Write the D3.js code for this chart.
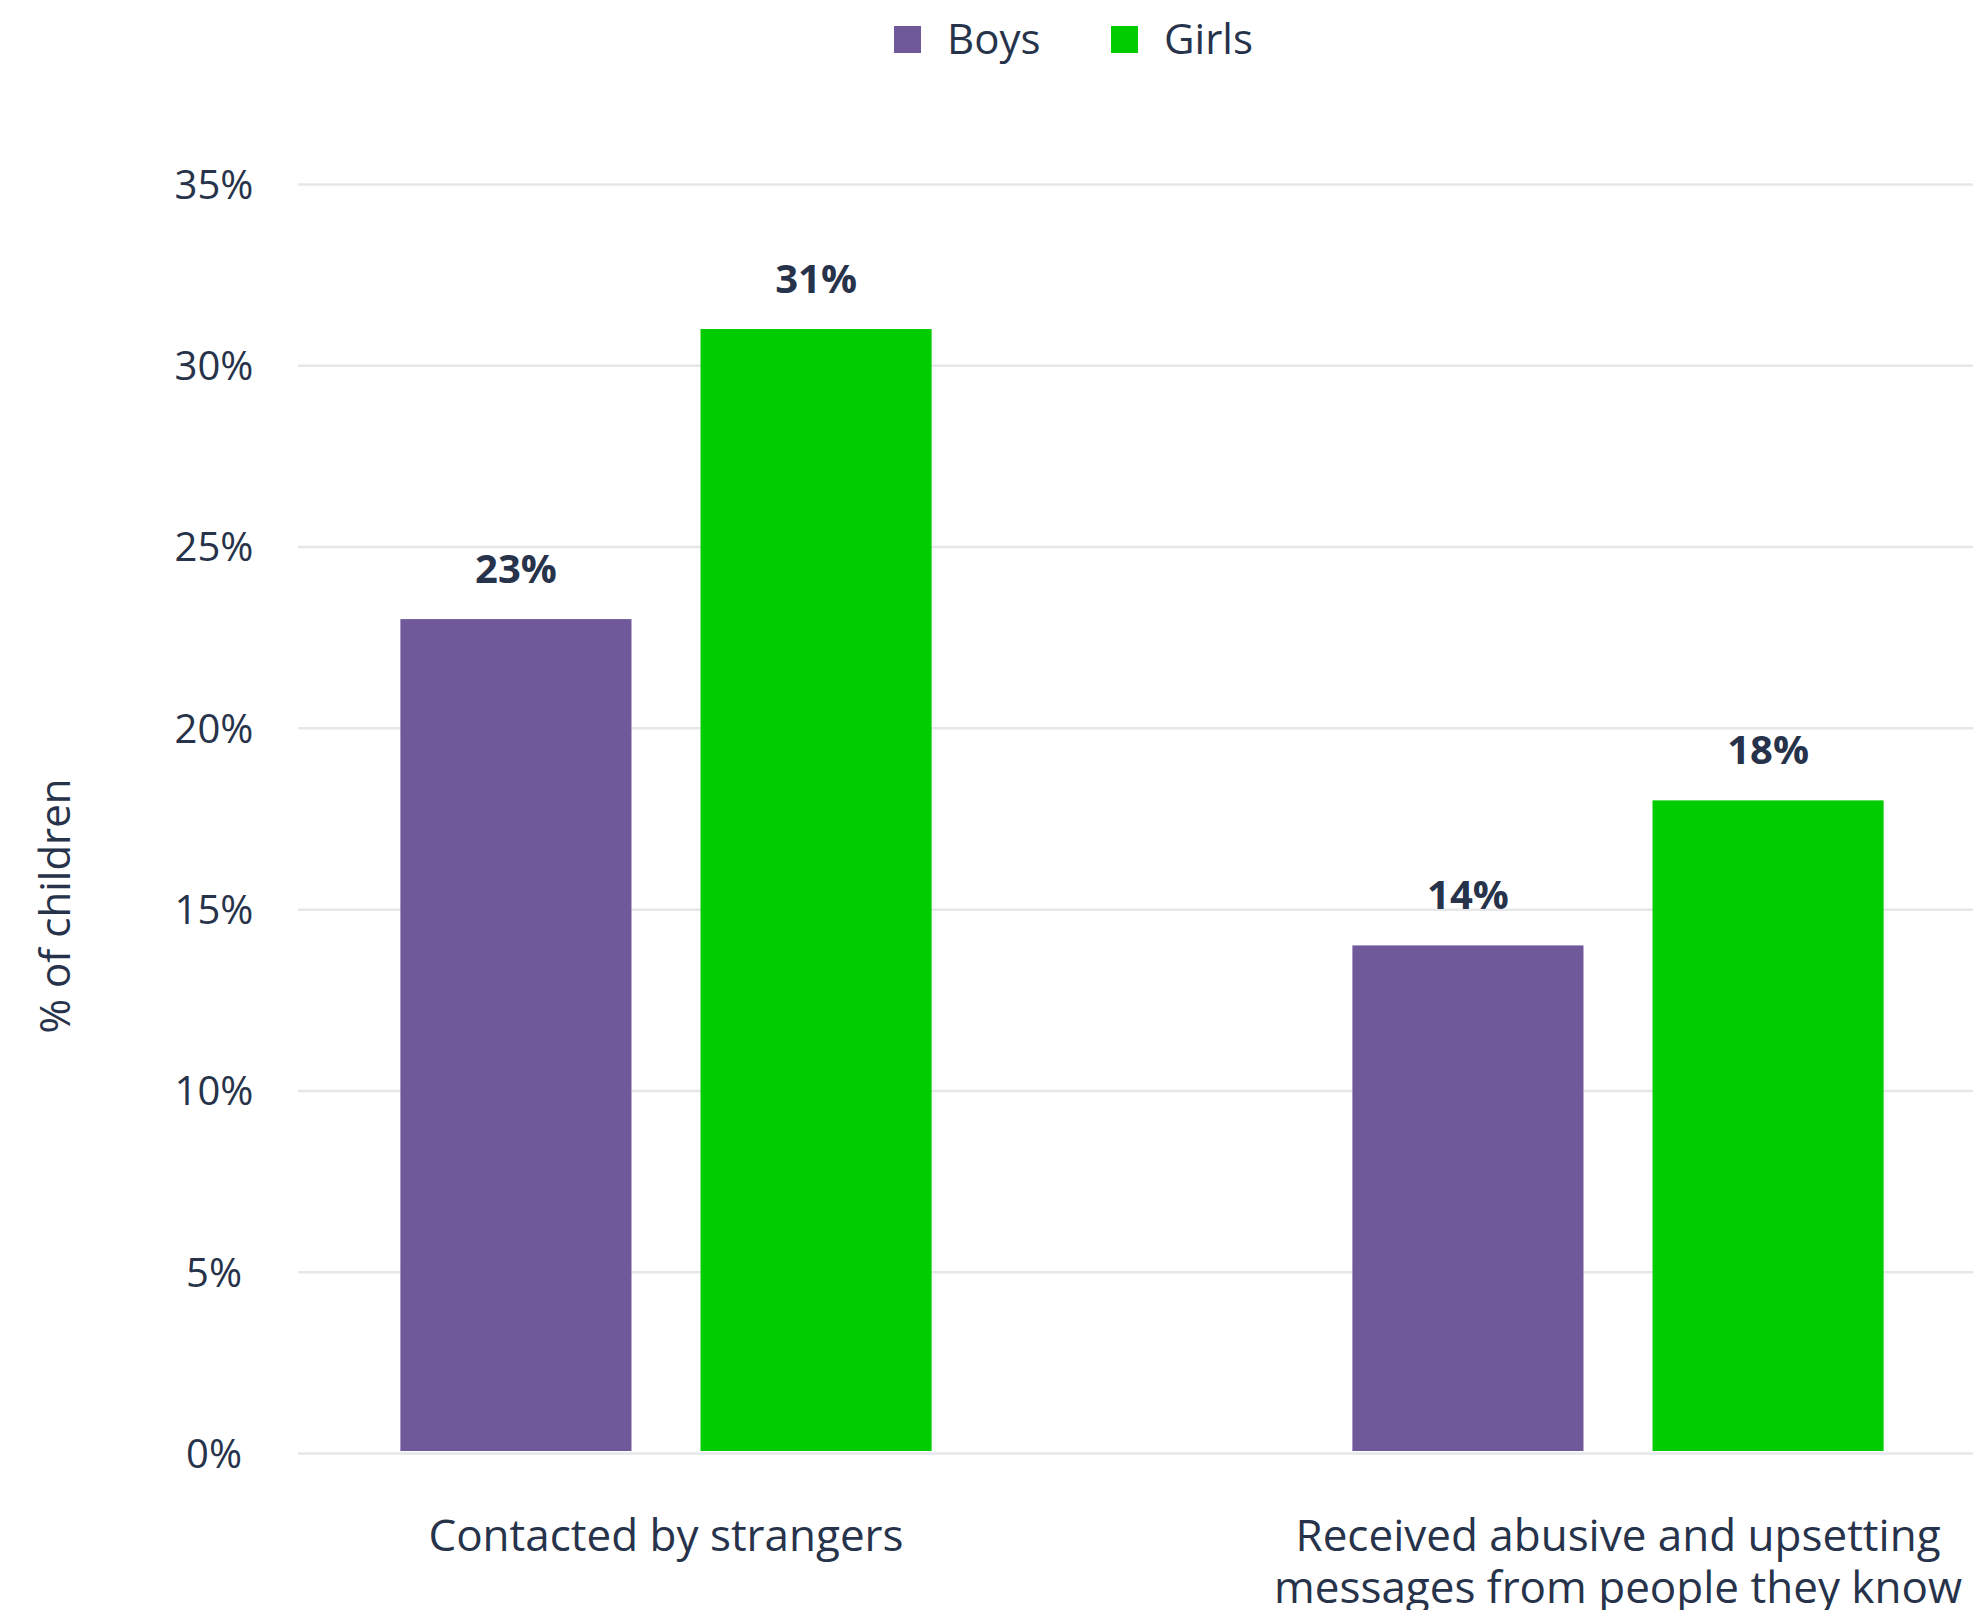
<!DOCTYPE html>
<html>
<head>
<meta charset="utf-8">
<script src="https://cdn.jsdelivr.net/npm/d3@7"></script>
<style>
  html, body { margin: 0; padding: 0; background: #fff; }
  svg { display: block; font-family: "Open Sans", sans-serif; }
</style>
</head>
<body>
<div id="chart"></div>
<script>
const { d3 } = window;

// data
const CATEGORIES = ['Contacted by strangers', 'Received abusive and upsetting messages from people they know'];
const CATEGORY_LINES = [['Contacted by strangers'], ['Received abusive and upsetting', 'messages from people they know']];
const SERIES = ['Boys', 'Girls'];
const BOYS = [23, 14];
const GIRLS = [31, 18];
const Y_TICKS = [0, 5, 10, 15, 20, 25, 30, 35];
const COLORS = ['#70599b', '#00cc00'];

const W = 1973;
const H = 1610;
const TEXT = '#27334a';

const svg = d3.select('#chart')
  .append('svg')
  .attr('width', W)
  .attr('height', H);

const y = d3.scaleLinear()
  .domain([0, 35])
  .range([1453, 184]);

// outer band runs past the right edge, like the source (it is cropped there)
const x0 = d3.scaleBand()
  .domain(CATEGORIES)
  .range([190, 2094])
  .paddingInner(0.442)
  .paddingOuter(0.221);

const x1 = d3.scaleBand()
  .domain(SERIES)
  .range([0, x0.bandwidth()])
  .paddingInner(0.23);

const color = d3.scaleOrdinal().domain(SERIES).range(COLORS);

// grid + y labels
const yAxis = svg.append('g')
  .attr('transform', 'translate(298,0)')
  .call(d3.axisLeft(y).tickValues(Y_TICKS).tickSize(-(W - 298)).tickFormat(d => `${d}%`));

yAxis.select('.domain').remove();
yAxis.selectAll('.tick line')
  .attr('stroke', '#e6e7e8')
  .attr('stroke-width', 2.5);
yAxis.selectAll('.tick text')
  .attr('x', 214 - 298)
  .attr('dy', '0.36em')
  .attr('text-anchor', 'middle')
  .attr('fill', TEXT)
  .style('font-size', '40px')
  .style('font-family', '"Open Sans", sans-serif');

// y title
svg.append('text')
  .attr('transform', 'translate(70,906) rotate(-90)')
  .attr('text-anchor', 'middle')
  .attr('fill', TEXT)
  .style('font-size', '42px')
  .text('% of children');

// bars
const rows = CATEGORIES.map((c, i) => ({ cat: c, values: [BOYS[i], GIRLS[i]] }));

const groups = svg.selectAll('g.group')
  .data(rows)
  .join('g')
  .attr('class', 'group')
  .attr('transform', d => `translate(${x0(d.cat)},0)`);

const bars = groups.selectAll('g.bar')
  .data(d => SERIES.map((s, j) => ({ key: s, value: d.values[j] })))
  .join('g')
  .attr('class', 'bar');

bars.append('rect')
  .attr('x', d => x1(d.key))
  .attr('y', d => y(d.value))
  .attr('width', x1.bandwidth())
  .attr('height', d => y(0) - 2 - y(d.value))
  .attr('fill', d => color(d.key));

bars.append('text')
  .attr('x', d => x1(d.key) + x1.bandwidth() / 2)
  .attr('y', d => y(d.value) - 36)
  .attr('text-anchor', 'middle')
  .attr('fill', TEXT)
  .style('font-size', '40px')
  .style('font-weight', 700)
  .text(d => `${d.value}%`);

// x labels
svg.selectAll('text.xlab')
  .data(CATEGORIES)
  .join('text')
  .attr('class', 'xlab')
  .attr('text-anchor', 'middle')
  .attr('fill', TEXT)
  .style('font-size', '44px')
  .attr('transform', d => `translate(${x0(d) + x0.bandwidth() / 2},1551)`)
  .selectAll('tspan')
  .data((d, i) => CATEGORY_LINES[i])
  .join('tspan')
  .attr('x', 0)
  .attr('dy', (d, i) => (i === 0 ? 0 : 52))
  .text(d => d);

// legend
const legend = svg.append('g').attr('transform', 'translate(894,26)');
const item = legend.selectAll('g')
  .data(SERIES)
  .join('g')
  .attr('transform', (d, i) => `translate(${i * 217},0)`);

item.append('rect')
  .attr('width', 27)
  .attr('height', 27)
  .attr('fill', d => color(d));

item.append('text')
  .attr('x', 53)
  .attr('y', 28)
  .attr('fill', TEXT)
  .style('font-size', '42px')
  .text(d => d);
</script>
</body>
</html>
